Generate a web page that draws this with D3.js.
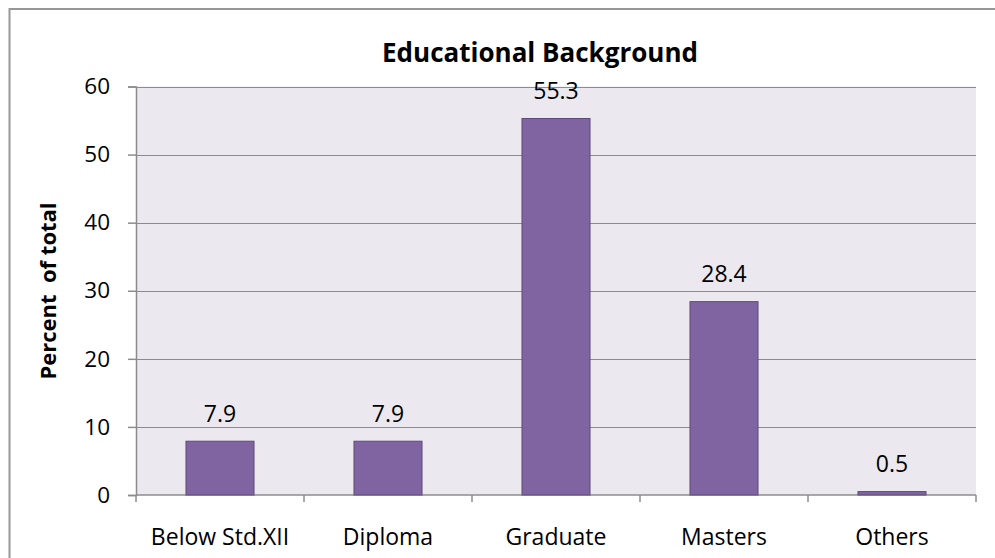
<!DOCTYPE html>
<html>
<head>
<meta charset="utf-8">
<script src="https://cdn.jsdelivr.net/npm/d3@7"></script>
<style>
  html, body { margin: 0; padding: 0; background: #fff; }
  svg { display: block; font-family: "Open Sans", sans-serif; }
</style>
</head>
<body>
<svg id="chart" width="995" height="558"></svg>
<script>
// Educational background of respondents (percent of total)
const categories = ["Below Std.XII", "Diploma", "Graduate", "Masters", "Others"];
const values = [7.9, 7.9, 55.3, 28.4, 0.5];
const yTicks = [0, 10, 20, 30, 40, 50, 60];
const title = "Educational Background";
const yTitle = "Percent\u00a0 of total";

const svg = d3.select("#chart");
const W = 995, H = 558;
const plot = { left: 136, right: 976, top: 86.5, bottom: 495 };

// outer chart frame (runs past the right and bottom edges)
svg.append("rect")
  .attr("x", 9.5).attr("y", 9)
  .attr("width", W + 20).attr("height", H + 20)
  .attr("fill", "#fff").attr("stroke", "#979797").attr("stroke-width", 2);

const x = d3.scaleBand()
  .domain(categories)
  .range([plot.left, plot.right])
  .paddingInner(0.595).paddingOuter(0.2975);

const y = d3.scaleLinear().domain([0, 60]).range([plot.bottom, plot.top]);

// plot background
svg.append("rect")
  .attr("x", plot.left).attr("y", plot.top)
  .attr("width", plot.right - plot.left).attr("height", plot.bottom - plot.top)
  .attr("fill", "#EBE9EF");

// horizontal gridlines
svg.append("g").selectAll("line").data(yTicks.filter(t => t > 0)).join("line")
  .attr("x1", plot.left).attr("x2", plot.right)
  .attr("y1", d => Math.round(y(d)) + 0.5).attr("y2", d => Math.round(y(d)) + 0.5)
  .attr("stroke", "#8C8C8C").attr("stroke-width", 1.2);

// y axis
const yAxis = d3.axisLeft(y).tickValues(yTicks).tickSize(8).tickPadding(18).tickFormat(d3.format("d"));
const gy = svg.append("g").attr("transform", `translate(${plot.left},0)`).call(yAxis);
gy.select(".domain").attr("stroke", "#8C8C8C").attr("stroke-width", 1.5);
gy.selectAll(".tick line").attr("stroke", "#8C8C8C").attr("stroke-width", 1.5);
gy.selectAll(".tick text").attr("font-size", 22.5).attr("fill", "#000")
  .attr("font-family", "'Open Sans', sans-serif");

// x axis with ticks at category boundaries
const boundaries = d3.range(categories.length + 1).map(i => plot.left + i * x.step());
const gx = svg.append("g");
gx.append("line")
  .attr("x1", plot.left).attr("x2", plot.right)
  .attr("y1", plot.bottom).attr("y2", plot.bottom)
  .attr("stroke", "#8C8C8C").attr("stroke-width", 1.5);
gx.selectAll("line.tk").data(boundaries).join("line").attr("class", "tk")
  .attr("x1", d => d).attr("x2", d => d)
  .attr("y1", plot.bottom).attr("y2", plot.bottom + 7)
  .attr("stroke", "#8C8C8C").attr("stroke-width", 1.5);
gx.selectAll("text").data(categories).join("text")
  .attr("x", d => x(d) + x.bandwidth() / 2)
  .attr("y", 545)
  .attr("text-anchor", "middle")
  .attr("font-size", 23)
  .attr("fill", "#000")
  .text(d => d);

// bars
svg.append("g").selectAll("rect").data(values).join("rect")
  .attr("x", (d, i) => x(categories[i]))
  .attr("y", d => y(d))
  .attr("width", x.bandwidth())
  .attr("height", d => y(0) - y(d))
  .attr("fill", "#8064A2")
  .attr("stroke", "#5E4A7A").attr("stroke-width", 1);

// value labels
svg.append("g").selectAll("text").data(values).join("text")
  .attr("x", (d, i) => x(categories[i]) + x.bandwidth() / 2)
  .attr("y", d => y(d) - 19.5)
  .attr("text-anchor", "middle")
  .attr("font-size", 23)
  .attr("fill", "#000")
  .text(d => d3.format(".1f")(d));

// chart title
svg.append("text")
  .attr("x", 540).attr("y", 62)
  .attr("text-anchor", "middle")
  .attr("font-size", 26).attr("font-weight", "bold")
  .attr("fill", "#000")
  .text(title);

// y axis title
svg.append("text")
  .attr("transform", `translate(56,291) rotate(-90)`)
  .attr("text-anchor", "middle")
  .attr("font-size", 22).attr("font-weight", "bold")
  .attr("fill", "#000")
  .text(yTitle);
</script>
</body>
</html>
